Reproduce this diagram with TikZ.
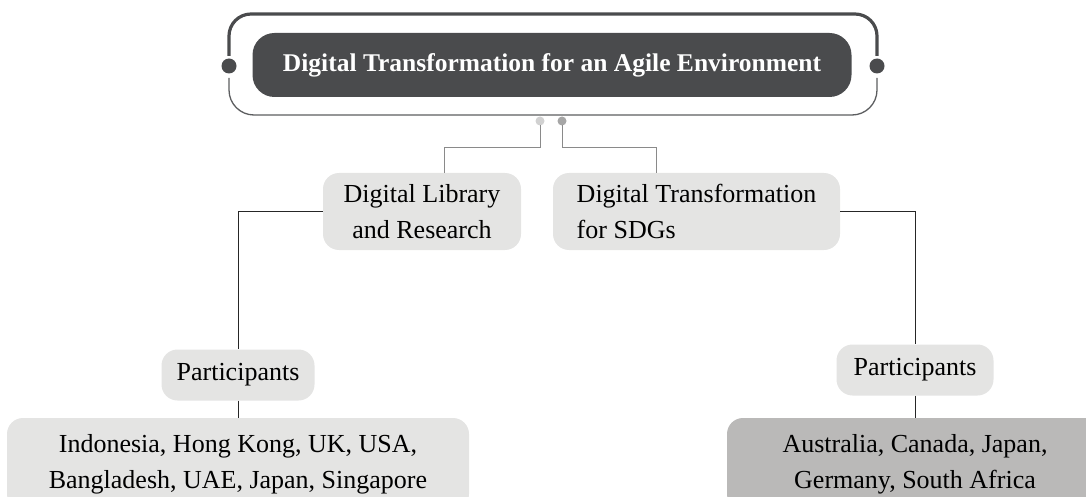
\documentclass[tikz,border=0pt]{standalone}
\usepackage{fontspec}
\setmainfont{Liberation Serif}
\usetikzlibrary{positioning}
\definecolor{titlegray}{HTML}{4A4B4D}
\definecolor{boxgray}{HTML}{E4E4E3}
\definecolor{darkbox}{HTML}{BAB9B8}
\definecolor{linkgray}{HTML}{8A8A8A}
\begin{document}
\begin{tikzpicture}[x=1pt,y=-1pt]
        \useasboundingbox (0,0) rectangle (1086,497);
        % frame round the title
        \draw[titlegray, line width=3.2pt]
            (229,56) -- (229,36) arc[start angle=180, end angle=270, radius=22] -- (855,14)
            arc[start angle=270, end angle=360, radius=22] -- (877,56);
        \draw[titlegray!90, line width=1.3pt]
            (229,78) -- (229,90) arc[start angle=180, end angle=90, radius=25] -- (852,115)
            arc[start angle=90, end angle=0, radius=25] -- (877,78);
        \fill[titlegray] (229,66) circle (7.5) (877,66) circle (7.5);
        \node[fill=titlegray, rounded corners=22, minimum width=599, minimum height=64,
              text=white, font=\fontsize{25.5}{30}\selectfont\bfseries] (title) at (552,65)
              {Digital Transformation for an Agile Environment};
        \fill[black!18] (540,121) circle (4.5);
        \fill[black!35] (562,121) circle (4.5);
        \begin{scope}[every node/.style={fill=boxgray, rounded corners=16, align=center,
                      font=\fontsize{26}{36}\selectfont}]
            \node[minimum width=198, minimum height=77] (lib) at (422,211.5)
                {Digital Library\\and Research};
            \node[minimum width=287, minimum height=77, align=left] (sdg) at (696.5,211.5)
                {Digital Transformation\\for SDGs};
            \node[minimum width=153, minimum height=51] (partl) at (238,375) {Participants};
            \node[minimum width=157, minimum height=51] (partr) at (915,370) {Participants};
            \node[minimum width=462, minimum height=92] (ctyl) at (238,464)
                {Indonesia, Hong Kong, UK, USA,\\Bangladesh, UAE, Japan, Singapore};
            \node[minimum width=376, minimum height=92, fill=darkbox] (ctyr) at (915,464)
                {Australia, Canada, Japan,\\Germany, South Africa};
        \end{scope}
        \begin{scope}[every path/.style={draw=linkgray, line width=1pt}]
            \draw (540,125) -- (540,148) -| ([xshift=22]lib.north);
            \draw (562,125) -- (562,148) -| ([xshift=-40]sdg.north);
        \end{scope}
        \begin{scope}[every path/.style={draw=black!85, line width=1pt}]
            \draw (lib.west) -| (partl.north);
            \draw (partl.south) -- (ctyl.north);
            \draw (sdg.east) -| (partr.north);
            \draw (partr.south) -- (ctyr.north);
        \end{scope}
    \end{tikzpicture}
\end{document}
